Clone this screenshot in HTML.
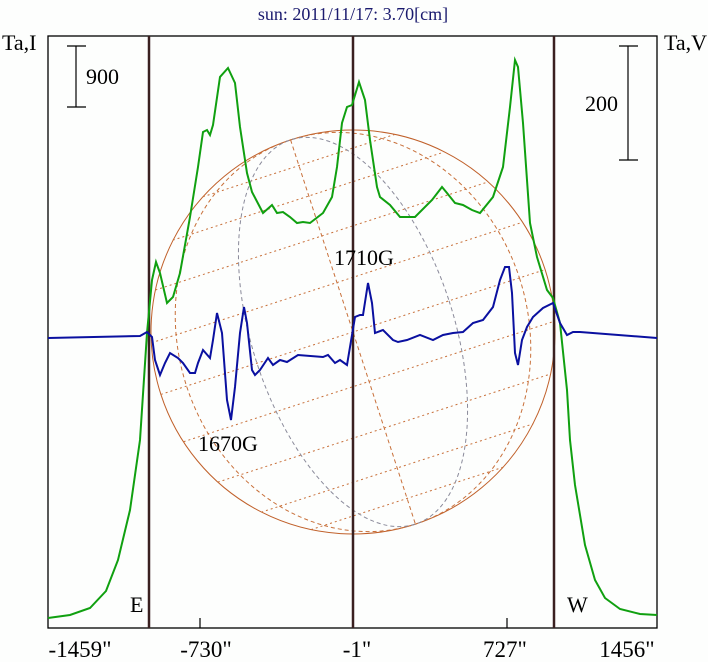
<!DOCTYPE html>
<html><head><style>
html,body{margin:0;padding:0;background:#fff;}
svg{display:block;}
text{font-family:"Liberation Serif",serif;}
</style></head><body>
<svg width="708" height="662" viewBox="0 0 708 662" xmlns="http://www.w3.org/2000/svg">
<rect width="708" height="662" fill="#fdfefd"/>
<text x="353" y="20" font-size="18" fill="#1a1a6e" text-anchor="middle">sun: 2011/11/17: 3.70[cm]</text>
<text x="2" y="50" font-size="22" fill="#000">Ta,I</text>
<text x="664" y="50" font-size="22" fill="#000">Ta,V</text>
<!-- globe -->
<g transform="translate(353,332) rotate(-18)" fill="none" stroke-width="1">
<circle cx="0" cy="0" r="202" stroke="#c0602a"/>
<g stroke="#c8703a" stroke-dasharray="2,3">
<line x1="-195" y1="-52" x2="195" y2="-52"/>
<line x1="-175" y1="-101" x2="175" y2="-101"/>
<line x1="-143" y1="-143" x2="143" y2="-143"/>
<line x1="-101" y1="-175" x2="101" y2="-175"/>
<line x1="-202" y1="0" x2="202" y2="0"/>
<line x1="-195" y1="52" x2="195" y2="52"/>
<line x1="-175" y1="101" x2="175" y2="101"/>
<line x1="-143" y1="143" x2="143" y2="143"/>
<line x1="-101" y1="175" x2="101" y2="175"/>
</g>
<g stroke-dasharray="4,3">
<ellipse cx="0" cy="0" rx="175" ry="202" stroke="#c8703a"/>
<ellipse cx="0" cy="0" rx="101" ry="202" stroke="#8a8a9a"/>
<line x1="0" y1="-202" x2="0" y2="202" stroke="#c8703a"/>
</g>
</g>
<!-- frame -->
<rect x="48" y="36" width="609" height="592" fill="none" stroke="#000" stroke-width="1.3"/>
<g stroke="#3a2020" stroke-width="2.5">
<line x1="149" y1="36" x2="149" y2="628"/>
<line x1="353" y1="36" x2="353" y2="628"/>
<line x1="554" y1="36" x2="554" y2="628"/>
</g>
<g stroke="#000" stroke-width="1.2">
<line x1="200" y1="618" x2="200" y2="628"/><line x1="507" y1="618" x2="507" y2="628"/>
<line x1="76" y1="46" x2="76" y2="107"/><line x1="67" y1="46" x2="86" y2="46"/><line x1="67" y1="107" x2="86" y2="107"/>
<line x1="628" y1="46" x2="628" y2="160"/><line x1="619" y1="46" x2="638" y2="46"/><line x1="619" y1="160" x2="638" y2="160"/>
</g>
<text x="86" y="84" font-size="22">900</text>
<text x="585" y="111" font-size="22">200</text>
<text x="130" y="612" font-size="22">E</text>
<text x="567" y="612" font-size="22">W</text>
<text x="334" y="265" font-size="22">1710G</text>
<text x="198" y="451" font-size="22">1670G</text>
<g font-size="23" text-anchor="middle">
<text x="80" y="657">-1459"</text>
<text x="206" y="657">-730"</text>
<text x="357" y="657">-1"</text>
<text x="505" y="657">727"</text>
<text x="627" y="657">1456"</text>
</g>
<!-- green -->
<polyline fill="none" stroke="#10a010" stroke-width="2" points="48,618 70,615 90,608 106,591 118,560 130,510 140,440 147,333 152,280 156,262 160,273 167,303 173,297 180,273 190,217 198,167 203,132 207,130 210,135 213,125 220,77 228,68 235,83 240,127 247,173 252,192 263,213 272,205 277,213 283,212 290,217 297,223 303,222 310,223 323,213 332,197 337,167 342,123 347,107 352,105 359,82 365,100 370,140 377,187 380,197 390,205 400,217 415,217 432,200 442,187 447,193 455,203 463,205 472,210 480,213 493,197 503,167 510,107 515,60 518,67 523,123 530,223 537,257 547,290 553,298 560,323 567,390 570,440 575,485 585,545 595,580 605,598 620,609 640,614 657,615"/>
<!-- blue -->
<polyline fill="none" stroke="#0a10a0" stroke-width="2" points="48,338 140,336 147,332 152,337 155,360 160,375 165,363 170,353 178,358 183,363 190,373 195,373 198,363 203,350 210,358 213,340 217,313 222,333 227,400 231,420 235,387 240,333 244,307 247,323 252,370 255,375 260,370 268,358 273,365 280,360 287,362 298,355 323,357 328,355 335,363 340,360 347,365 350,347 355,317 360,315 363,315 368,283 372,303 375,333 383,330 393,340 398,342 407,340 420,335 433,340 443,335 453,333 463,332 473,323 483,320 493,307 500,280 505,267 509,267 512,293 515,353 518,365 522,340 527,327 533,317 543,308 553,303 560,323 567,335 573,332 580,332 657,338"/>
</svg>
</body></html>
